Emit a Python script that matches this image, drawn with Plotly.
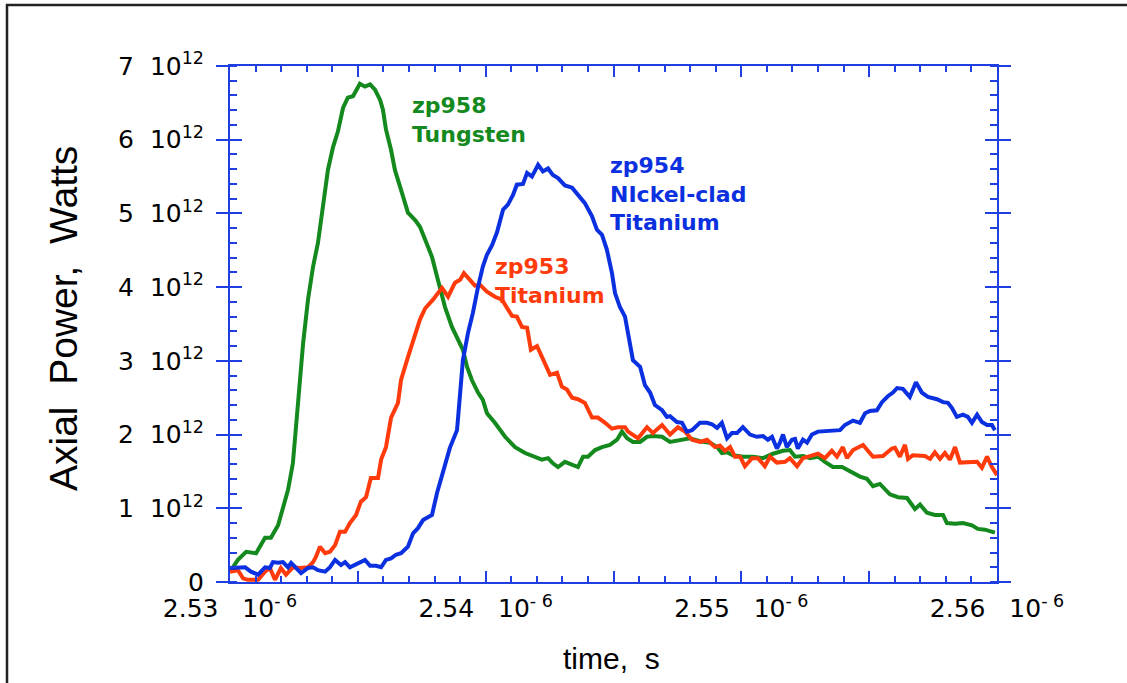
import plotly.graph_objects as go

# Axial power traces for three shots; time in ns, power in units of 1e12 W
w_time_ns = [2530.00, 2530.31, 2530.63, 2531.02, 2531.37, 2531.60, 2531.88, 2532.07, 2532.27, 2532.46,
             2532.58, 2532.74, 2532.86, 2533.05, 2533.25, 2533.44, 2533.64, 2533.83, 2534.03, 2534.22,
             2534.42, 2534.61, 2534.81, 2535.08, 2535.28, 2535.48, 2535.67, 2535.87, 2535.98, 2536.10,
             2536.30, 2536.45, 2536.69, 2536.96, 2537.24, 2537.43, 2537.74, 2537.90, 2538.13, 2538.41,
             2538.68, 2538.92, 2539.11, 2539.27, 2539.46, 2539.70, 2539.89, 2540.05, 2540.36, 2540.76,
             2541.15, 2541.54, 2541.93, 2542.20, 2542.44, 2542.63, 2542.83, 2543.10, 2543.61, 2543.81,
             2544.00, 2544.28, 2544.55, 2544.86, 2545.14, 2545.33, 2545.53, 2545.76, 2546.04, 2546.31,
             2546.54, 2546.90, 2547.21, 2547.60, 2547.99, 2548.38, 2548.77, 2549.05, 2549.24, 2549.44,
             2549.67, 2550.06, 2550.46, 2550.85, 2551.24, 2551.63, 2551.90, 2552.10, 2552.41, 2552.68,
             2553.00, 2553.27, 2553.58, 2553.94, 2554.33, 2554.64, 2554.91, 2555.15, 2555.42, 2555.81,
             2556.13, 2556.48, 2556.79, 2556.99, 2557.26, 2557.57, 2557.89, 2558.04, 2558.36, 2558.67,
             2559.02, 2559.25, 2559.53, 2559.92]
w_power = [0.14, 0.30, 0.41, 0.39, 0.60, 0.60, 0.77, 1.02, 1.25, 1.61,
           2.10, 2.78, 3.24, 3.83, 4.28, 4.60, 5.14, 5.59, 5.90, 6.11,
           6.43, 6.57, 6.59, 6.76, 6.72, 6.75, 6.68, 6.54, 6.41, 6.14,
           5.86, 5.59, 5.32, 5.01, 4.91, 4.82, 4.55, 4.41, 4.10, 3.73,
           3.46, 3.28, 3.15, 2.92, 2.74, 2.57, 2.47, 2.29, 2.16, 1.97,
           1.83, 1.75, 1.70, 1.66, 1.68, 1.61, 1.56, 1.63, 1.56, 1.70,
           1.70, 1.79, 1.83, 1.86, 1.93, 2.04, 1.95, 1.90, 1.90, 1.97,
           1.98, 1.97, 1.90, 1.93, 1.95, 1.91, 1.89, 1.83, 1.75, 1.76,
           1.72, 1.70, 1.70, 1.68, 1.74, 1.78, 1.79, 1.70, 1.71, 1.68,
           1.70, 1.63, 1.56, 1.56, 1.48, 1.43, 1.40, 1.30, 1.33, 1.19,
           1.15, 1.14, 0.99, 1.05, 0.94, 0.91, 0.91, 0.80, 0.79, 0.80,
           0.77, 0.72, 0.71, 0.67]

ti_time_ns = [2530.00, 2530.31, 2530.51, 2530.70, 2531.10, 2531.37, 2531.56, 2531.76, 2531.99, 2532.19,
              2532.46, 2532.74, 2533.05, 2533.25, 2533.36, 2533.52, 2533.72, 2533.91, 2534.11, 2534.30,
              2534.50, 2534.69, 2534.93, 2535.12, 2535.32, 2535.51, 2535.79, 2535.91, 2536.10, 2536.30,
              2536.57, 2536.69, 2536.96, 2537.24, 2537.43, 2537.63, 2537.94, 2538.29, 2538.53, 2538.80,
              2539.00, 2539.15, 2539.39, 2539.58, 2539.78, 2540.05, 2540.36, 2540.64, 2540.83, 2541.03,
              2541.22, 2541.42, 2541.62, 2541.77, 2542.01, 2542.24, 2542.52, 2542.79, 2542.98, 2543.18,
              2543.38, 2543.61, 2543.88, 2544.16, 2544.39, 2544.67, 2544.94, 2545.17, 2545.45, 2545.57,
              2545.96, 2546.31, 2546.54, 2546.90, 2547.21, 2547.52, 2547.80, 2548.07, 2548.38, 2548.66,
              2548.97, 2549.16, 2549.36, 2549.56, 2549.75, 2549.95, 2550.14, 2550.42, 2550.65, 2550.92,
              2551.12, 2551.39, 2551.71, 2551.90, 2552.18, 2552.41, 2552.68, 2553.00, 2553.27, 2553.54,
              2553.74, 2553.97, 2554.13, 2554.37, 2554.76, 2555.03, 2555.15, 2555.54, 2555.89, 2556.01,
              2556.20, 2556.40, 2556.52, 2556.71, 2557.18, 2557.38, 2557.57, 2557.77, 2557.96, 2558.16,
              2558.36, 2558.55, 2558.94, 2559.22, 2559.41, 2559.61, 2559.80, 2560.00]
ti_power = [0.14, 0.16, 0.05, 0.03, 0.03, 0.14, 0.19, 0.03, 0.19, 0.10,
            0.20, 0.19, 0.20, 0.27, 0.34, 0.48, 0.39, 0.41, 0.50, 0.68,
            0.68, 0.80, 0.91, 1.09, 1.15, 1.41, 1.41, 1.66, 1.83, 2.23,
            2.43, 2.74, 3.05, 3.33, 3.56, 3.71, 3.83, 3.99, 3.87, 4.06,
            4.10, 4.19, 4.10, 4.02, 4.03, 3.94, 3.87, 3.83, 3.72, 3.61,
            3.60, 3.46, 3.45, 3.15, 3.20, 3.01, 2.81, 2.84, 2.65, 2.61,
            2.50, 2.48, 2.43, 2.23, 2.23, 2.16, 2.08, 2.10, 2.10, 2.04,
            1.95, 2.10, 2.02, 2.13, 2.00, 2.10, 2.04, 1.93, 1.90, 1.93,
            1.83, 1.85, 1.78, 1.83, 1.70, 1.70, 1.57, 1.68, 1.68, 1.57,
            1.70, 1.62, 1.63, 1.68, 1.57, 1.68, 1.71, 1.74, 1.68, 1.78,
            1.70, 1.83, 1.68, 1.79, 1.86, 1.76, 1.70, 1.71, 1.81, 1.82,
            1.70, 1.86, 1.67, 1.72, 1.71, 1.67, 1.76, 1.67, 1.75, 1.66,
            1.83, 1.62, 1.63, 1.63, 1.55, 1.70, 1.56, 1.45]

ni_time_ns = [2530.00, 2530.31, 2530.59, 2530.82, 2531.10, 2531.37, 2531.56, 2531.68, 2531.88, 2532.07,
              2532.27, 2532.39, 2532.58, 2532.78, 2533.05, 2533.25, 2533.44, 2533.72, 2533.91, 2534.11,
              2534.34, 2534.50, 2534.69, 2534.89, 2535.08, 2535.28, 2535.48, 2535.71, 2535.91, 2536.10,
              2536.30, 2536.49, 2536.69, 2536.96, 2537.16, 2537.35, 2537.55, 2537.74, 2537.90, 2538.10,
              2538.33, 2538.60, 2538.88, 2539.00, 2539.11, 2539.31, 2539.50, 2539.70, 2539.89, 2540.05,
              2540.25, 2540.44, 2540.68, 2540.87, 2541.07, 2541.22, 2541.46, 2541.62, 2541.81, 2542.05,
              2542.24, 2542.44, 2542.63, 2542.83, 2543.10, 2543.38, 2543.61, 2543.88, 2544.16, 2544.35,
              2544.55, 2544.74, 2544.94, 2545.06, 2545.25, 2545.45, 2545.76, 2546.04, 2546.23, 2546.43,
              2546.62, 2546.90, 2547.09, 2547.21, 2547.48, 2547.68, 2547.87, 2548.07, 2548.38, 2548.66,
              2548.85, 2549.05, 2549.24, 2549.44, 2549.63, 2549.83, 2550.06, 2550.34, 2550.61, 2550.85,
              2551.04, 2551.20, 2551.39, 2551.51, 2551.63, 2551.78, 2551.98, 2552.10, 2552.21, 2552.41,
              2552.57, 2552.76, 2553.00, 2553.35, 2553.58, 2553.86, 2554.05, 2554.37, 2554.64, 2554.84,
              2555.03, 2555.30, 2555.50, 2555.73, 2555.93, 2556.09, 2556.32, 2556.59, 2556.83, 2557.06,
              2557.30, 2557.65, 2557.89, 2558.08, 2558.24, 2558.43, 2558.67, 2558.86, 2559.02, 2559.22,
              2559.41, 2559.61, 2559.80, 2559.92]
ni_power = [0.19, 0.20, 0.20, 0.14, 0.10, 0.20, 0.19, 0.27, 0.26, 0.27,
            0.20, 0.26, 0.19, 0.12, 0.19, 0.20, 0.16, 0.14, 0.20, 0.30,
            0.23, 0.27, 0.20, 0.23, 0.26, 0.30, 0.22, 0.22, 0.20, 0.30,
            0.32, 0.37, 0.39, 0.48, 0.66, 0.73, 0.84, 0.88, 0.91, 1.21,
            1.49, 1.82, 2.06, 2.57, 3.01, 3.38, 3.65, 4.00, 4.28, 4.44,
            4.57, 4.74, 5.05, 5.12, 5.25, 5.39, 5.40, 5.55, 5.50, 5.66,
            5.57, 5.61, 5.52, 5.48, 5.38, 5.35, 5.25, 5.14, 4.96, 4.78,
            4.71, 4.51, 4.19, 3.92, 3.73, 3.60, 3.01, 2.92, 2.67, 2.57,
            2.40, 2.33, 2.24, 2.25, 2.17, 2.16, 2.04, 2.06, 2.16, 2.16,
            2.14, 2.09, 2.16, 1.95, 2.02, 2.02, 2.10, 2.00, 1.97, 1.98,
            1.93, 1.97, 1.81, 1.89, 2.00, 1.83, 1.93, 1.94, 1.81, 1.93,
            1.89, 2.00, 2.04, 2.05, 2.06, 2.06, 2.13, 2.19, 2.16, 2.29,
            2.32, 2.33, 2.44, 2.52, 2.57, 2.63, 2.62, 2.51, 2.71, 2.57,
            2.51, 2.48, 2.44, 2.43, 2.36, 2.24, 2.27, 2.24, 2.16, 2.27,
            2.17, 2.13, 2.13, 2.06]

# Axis ticks and labels
NB = "\u00a0"
y_tick_vals = [0, 1, 2, 3, 4, 5, 6, 7]
y_tick_text = ["0"] + [f"{v}{NB * 2}10<sup>12</sup>" for v in y_tick_vals[1:]]
x_tick_vals_us = [2.530, 2.535, 2.540, 2.545, 2.550, 2.555, 2.560]
x_tick_text = [f"2.53{NB * 3}10<sup>-{NB}6</sup>", "", f"2.54{NB * 3}10<sup>-{NB}6</sup>", "",
               f"2.55{NB * 3}10<sup>-{NB}6</sup>", "", f"2.56{NB * 3}10<sup>-{NB}6</sup>"]

GREEN = "#14891d"
RED = "#ff3b0c"
BLUE = "#0b30e0"
AXIS = "#1f3fe0"

series = [
    ("zp958 Tungsten", w_time_ns, w_power, GREEN),
    ("zp953 Titanium", ti_time_ns, ti_power, RED),
    ("zp954 Nickel-clad Titanium", ni_time_ns, ni_power, BLUE),
]

fig = go.Figure()
for name, t_ns, p, color in series:
    fig.add_trace(go.Scatter(
        x=[v * 1e-9 for v in t_ns], y=[v * 1e12 for v in p],
        mode="lines", name=name, showlegend=False,
        line=dict(color=color, width=4), hoverinfo="skip",
    ))
# empty trace so the overlaid tick axis is drawn
fig.add_trace(go.Scatter(x=[], y=[], yaxis="y2", showlegend=False, hoverinfo="skip"))

tick_font = dict(family="DejaVu Sans", size=25, color="black")

fig.update_layout(
    width=1127, height=683,
    margin=dict(l=230, r=130, t=66, b=101),
    paper_bgcolor="white", plot_bgcolor="white",
    showlegend=False, hovermode=False,
    xaxis=dict(
        range=[2.53e-6, 2.56e-6], showgrid=False, zeroline=False,
        showline=True, linecolor=AXIS, linewidth=2, mirror="ticks",
        tickmode="array", tickvals=[v * 1e-6 for v in x_tick_vals_us], ticktext=x_tick_text,
        ticks="inside", ticklen=11, tickwidth=2, tickcolor=AXIS,
        minor=dict(tick0=2.53e-6, dtick=1e-9, ticks="inside", ticklen=6, tickwidth=2, tickcolor=AXIS),
        tickfont=tick_font, ticklabelstandoff=3,
    ),
    yaxis=dict(
        range=[0, 7e12], showgrid=False, zeroline=False,
        showline=True, linecolor=AXIS, linewidth=2, mirror="ticks",
        tickmode="array", tickvals=[v * 1e12 for v in y_tick_vals], ticktext=y_tick_text,
        ticks="outside", ticklen=12, tickwidth=2, tickcolor=AXIS,
        minor=dict(tick0=0, dtick=0.2e12, ticks="inside", ticklen=7, tickwidth=2, tickcolor=AXIS),
        tickfont=tick_font, ticklabelstandoff=7,
    ),
    yaxis2=dict(
        overlaying="y", range=[0, 7e12], showgrid=False, zeroline=False,
        showline=False, mirror="ticks", side="left",
        tickmode="array", tickvals=[v * 1e12 for v in y_tick_vals],
        ticks="inside", ticklen=12, tickwidth=2, tickcolor=AXIS, showticklabels=False,
    ),
)

# Outer frame
fig.add_shape(type="rect", xref="paper", yref="paper",
              x0=(7 - 230) / 767, x1=(1140 - 230) / 767,
              y0=(582 - 700) / 516, y1=(582 - 5) / 516,
              line=dict(color="#222222", width=2.5), fillcolor="rgba(0,0,0,0)", layer="below")

# Axis titles
fig.add_annotation(text=f"Axial{NB * 2}Power,{NB * 2}Watts", textangle=-90,
                   xref="paper", yref="paper", x=(63 - 230) / 767, y=(582 - 319) / 516,
                   xanchor="center", yanchor="middle", showarrow=False,
                   font=dict(family="Liberation Sans", size=39, color="black"))
fig.add_annotation(text=f"time,{NB * 2}s",
                   xref="paper", yref="paper", x=(611 - 230) / 767, y=(582 - 658) / 516,
                   xanchor="center", yanchor="middle", showarrow=False,
                   font=dict(family="Liberation Sans", size=30, color="black"))

# Curve labels
label_font = "DejaVu Sans"
labels = [
    ("<b>zp958</b><br><b>Tungsten</b>", 2537.04, 6.27, GREEN),
    ("<b>zp954</b><br><b>NIckel-clad</b><br><b>Titanium</b>", 2544.78, 5.26, BLUE),
    ("<b>zp953</b><br><b>Titanium</b>", 2540.29, 4.09, RED),
]
for text, t_ns, p, color in labels:
    fig.add_annotation(text=text, x=t_ns * 1e-9, y=p * 1e12, xref="x", yref="y",
                       xanchor="left", yanchor="middle", align="left", showarrow=False,
                       font=dict(family=label_font, size=22, color=color))

fig.write_html("out.html")
